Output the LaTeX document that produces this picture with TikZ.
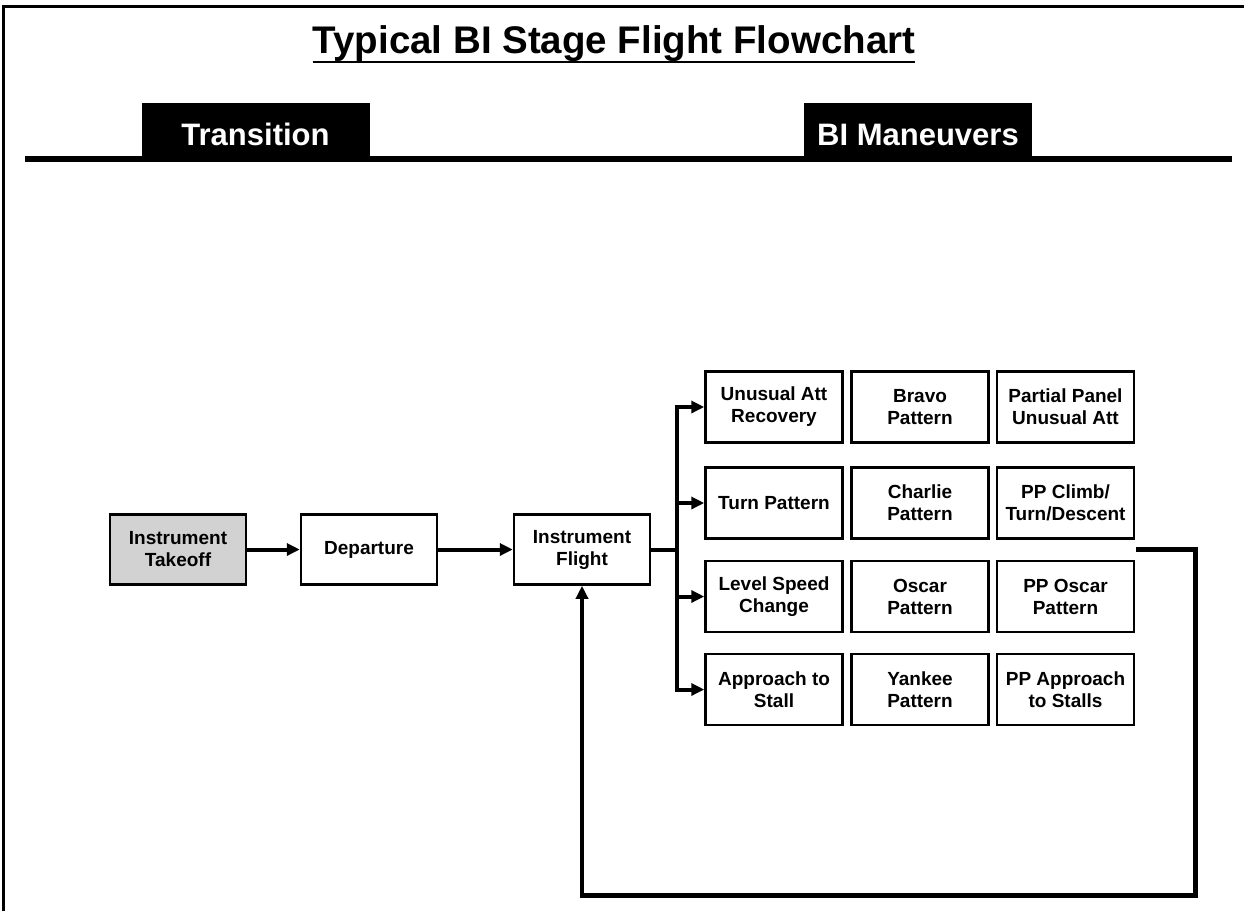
\documentclass[tikz,border=0pt]{standalone}
\usepackage{fontspec}
\setmainfont{Liberation Sans}
\usetikzlibrary{arrows.meta}
\definecolor{boxgray}{HTML}{D2D2D2}
\tikzset{
  box/.style={draw=black, line width=2.5pt, fill=white, minimum width=137pt, minimum height=71pt,
    inner sep=1pt, align=center, font=\bfseries\fontsize{19}{22}\selectfont},
  tab/.style={fill=black, text=white, minimum width=228pt, minimum height=55pt, inner sep=0pt,
    text height=30pt, text depth=0pt, font=\bfseries\fontsize{31}{34}\selectfont},
  conn/.style={line width=4pt},
  arr/.style={line width=4pt, -{Triangle[length=13pt,width=12pt]}},
}
\begin{document}
\begin{tikzpicture}[x=1pt,y=-1pt]
\useasboundingbox (0,0) rectangle (1244,911);
% frame
\draw[line width=3pt] (3.5,911) -- (3.5,6.5) -- (1244,6.5);
% title
\node[inner sep=0pt, anchor=base, font=\bfseries\fontsize{38.5}{42}\selectfont] (title) at (614,53) {Typical BI Stage Flight Flowchart};
\draw[line width=2.5pt] ([yshift=-9pt]title.base west) -- ([yshift=-9pt]title.base east);
% header
\node[tab] (ttrans) at (255.5,130) {Transition};
\node[tab] (tbim) at (918,130) {BI Maneuvers};
\draw[line width=6pt] (25,159) -- (1232,159);
% main nodes
\node[box, fill=boxgray, minimum width=136pt, minimum height=70pt] (it) at (178,549.5) {Instrument\\Takeoff};
\node[box, minimum width=136pt, minimum height=70pt] (dep) at (369,549.5) {Departure};
\node[box, minimum width=136pt, minimum height=70pt] (if) at (582,549.5) {Instrument\\Flight};
% grid
\node[box] (a1) at (774,407) {Unusual Att\\Recovery};
\node[box] (b1) at (920,407) {Bravo\\Pattern};
\node[box] (c1) at (1065.5,407) {Partial Panel\\Unusual Att};
\node[box] (a2) at (774,503) {Turn Pattern};
\node[box] (b2) at (920,503) {Charlie\\Pattern};
\node[box] (c2) at (1065.5,503) {PP Climb/\\Turn/Descent};
\node[box] (a3) at (774,596.5) {Level Speed\\Change};
\node[box] (b3) at (920,596.5) {Oscar\\Pattern};
\node[box] (c3) at (1065.5,596.5) {PP Oscar\\Pattern};
\node[box] (a4) at (774,689.5) {Approach to\\Stall};
\node[box] (b4) at (920,689.5) {Yankee\\Pattern};
\node[box] (c4) at (1065.5,689.5) {PP Approach\\to Stalls};
% connectors
\draw[arr] (it.east) -- (dep.west);
\draw[arr] (dep.east) -- (if.west);
\coordinate (trunk) at (677,549.5);
\coordinate (ttop) at (677,407);
\coordinate (tbot) at (677,689.5);
\draw[conn] (if.east) -- (trunk);
\draw[conn, line cap=rect] (ttop) -- (tbot);
\draw[arr] (ttop) -- (a1.west);
\draw[arr] (677,503) -- (a2.west);
\draw[arr] (677,596.5) -- (a3.west);
\draw[arr] (tbot) -- (a4.west);
% loop back
\coordinate (loopstart) at (1136,549.5);
\draw[line width=4.5pt, -{Triangle[length=13pt,width=12pt]}] (loopstart) -- (1195.5,549.5) -- (1195.5,895.5) -- (582,895.5) -- (if.south);
\end{tikzpicture}
\end{document}
